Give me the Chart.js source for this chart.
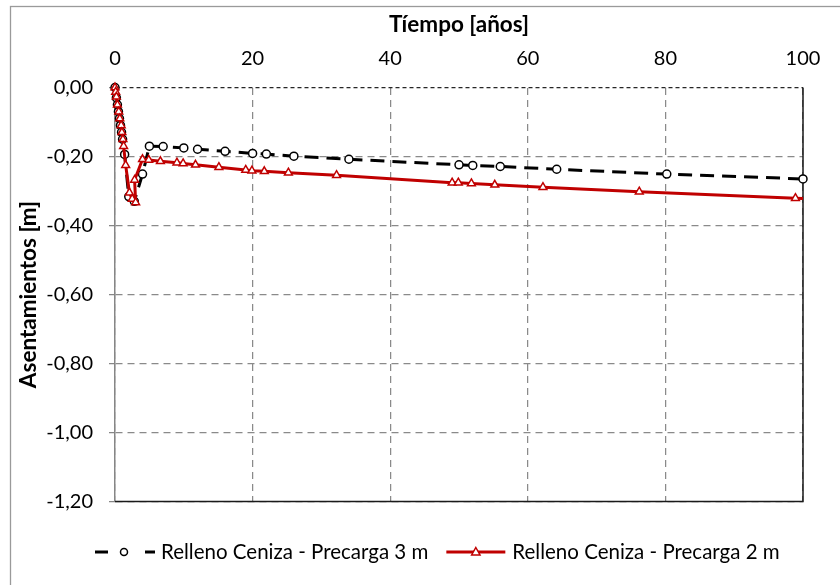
<!DOCTYPE html>
<html>
<head>
<meta charset="utf-8">
<script src="https://cdn.jsdelivr.net/npm/chart.js@4.4.0/dist/chart.umd.min.js"></script>
<style>
  html, body { margin: 0; padding: 0; background: #fff; }
  canvas { display: block; }
</style>
</head>
<body>
<canvas id="settlementChart" width="840" height="585"></canvas>
<script>
// axis ticks
const xTicks = [0, 20, 40, 60, 80, 100];
const yTicks = [0, -0.2, -0.4, -0.6, -0.8, -1.0, -1.2];

const seriesNames = ['Relleno Ceniza - Precarga 3 m', 'Relleno Ceniza - Precarga 2 m'];

// Precarga 3 m (tiempo en años, asentamiento en m)
const timeP3 = [0, 0.2, 0.35, 0.5, 0.65, 0.8, 0.95, 1.1, 1.4, 2.0, 2.8, 4.0, 5.0, 7.0, 10.0, 12.0,
    16.0, 20.0, 22.0, 26.0, 34.0, 50.0, 52.0, 56.0, 64.2, 80.2, 100];
const settleP3 = [0, -0.03, -0.05, -0.07, -0.09, -0.11, -0.13, -0.15, -0.194, -0.316, -0.33, -0.251,
    -0.170, -0.171, -0.175, -0.179, -0.185, -0.191, -0.193, -0.199, -0.208, -0.224, -0.226, -0.229,
    -0.237, -0.251, -0.265];

// Precarga 2 m
const timeP2 = [0, 0.1, 0.2, 0.35, 0.55, 0.7, 0.9, 1.0, 1.15, 1.25, 1.55, 2.1, 2.5, 3.0, 2.85, 4.0,
    4.9, 6.6, 9.0, 9.9, 11.7, 15.1, 19.0, 19.9, 21.7, 25.2, 32.2, 49.0, 49.9, 51.8, 55.2, 62.2, 76.2,
    98.9, 100];
const settleP2 = [0, -0.013, -0.027, -0.05, -0.07, -0.09, -0.11, -0.13, -0.15, -0.17, -0.225, -0.305,
    -0.323, -0.333, -0.268, -0.208, -0.210, -0.214, -0.218, -0.220, -0.224, -0.231, -0.239, -0.241,
    -0.243, -0.247, -0.254, -0.276, -0.276, -0.278, -0.282, -0.289, -0.302, -0.321, -0.322];

const FONT = 'Lato';
const RED = '#C00000';
const TICK_SIZE = 20;
const TITLE_SIZE = 22.5;
const LEGEND_SIZE = 20.5;

function toPoints(xs, ys) {
    return xs.map((x, i) => ({ x: x, y: ys[i] }));
}

function fmtComma(v) {
    if (Math.abs(v) < 1e-9) v = 0;
    return v.toFixed(2).replace('.', ',');
}

// marco exterior + bordes derecho/inferior del área de trazado
const framePlugin = {
    id: 'frame',
    beforeDraw(chart) {
        const ctx = chart.ctx;
        ctx.save();
        ctx.fillStyle = '#fff';
        ctx.fillRect(0, 0, chart.width, chart.height);
        ctx.strokeStyle = '#9a9a9a';
        ctx.lineWidth = 1.3;
        ctx.strokeRect(10.5, 6.5, 840, 600);
        ctx.restore();
    },
    beforeDatasetsDraw(chart) {
        const a = chart.chartArea;
        const ctx = chart.ctx;
        ctx.save();
        ctx.strokeStyle = '#1a1a1a';
        ctx.lineWidth = 1.5;
        ctx.beginPath();
        ctx.moveTo(a.right, a.top);
        ctx.lineTo(a.right, a.bottom);
        ctx.lineTo(a.left, a.bottom);
        ctx.stroke();
        ctx.restore();
    }
};

// leyenda estilo Excel (línea + marcador)
const legendPlugin = {
    id: 'excelLegend',
    afterDraw(chart) {
        const ctx = chart.ctx;
        const y = 552;
        ctx.save();
        ctx.font = LEGEND_SIZE + 'px ' + FONT;
        ctx.textBaseline = 'middle';
        ctx.fillStyle = '#000';

        // serie 1: discontinua negra con círculo
        let x = 95;
        ctx.strokeStyle = '#000';
        ctx.lineWidth = 3;
        ctx.beginPath();
        ctx.moveTo(x, y); ctx.lineTo(x + 13, y);
        ctx.moveTo(x + 50, y); ctx.lineTo(x + 60, y);
        ctx.stroke();
        ctx.beginPath();
        ctx.arc(x + 29, y, 3.5, 0, Math.PI * 2);
        ctx.fillStyle = '#fff';
        ctx.fill();
        ctx.lineWidth = 1.5;
        ctx.stroke();
        ctx.fillStyle = '#000';
        ctx.fillText(seriesNames[0], x + 66, y);
        const w1 = ctx.measureText(seriesNames[0]).width;

        // serie 2: roja continua con triángulo
        x = x + 66 + w1 + 18;
        ctx.strokeStyle = RED;
        ctx.lineWidth = 3;
        ctx.beginPath();
        ctx.moveTo(x, y); ctx.lineTo(x + 59, y);
        ctx.stroke();
        const cx = x + 29.5;
        ctx.beginPath();
        ctx.moveTo(cx, y - 4.5);
        ctx.lineTo(cx + 4.2, y + 3);
        ctx.lineTo(cx - 4.2, y + 3);
        ctx.closePath();
        ctx.fillStyle = '#fff';
        ctx.fill();
        ctx.lineWidth = 1.5;
        ctx.stroke();
        ctx.fillStyle = '#000';
        ctx.fillText(seriesNames[1], x + 66, y);
        ctx.restore();
    }
};

function drawChart() {
    const ctx = document.getElementById('settlementChart').getContext('2d');
    const lastP2 = timeP2.length - 1;

    new Chart(ctx, {
        type: 'scatter',
        data: {
            datasets: [{
                label: seriesNames[0],
                data: toPoints(timeP3, settleP3),
                showLine: true,
                borderColor: '#000',
                borderWidth: 3,
                borderDash: [14, 8],
                pointStyle: 'circle',
                pointRadius: 4,
                pointBorderWidth: 1.5,
                pointBackgroundColor: '#fff',
                pointBorderColor: '#000',
                clip: false,
                order: 2
            }, {
                label: seriesNames[1],
                data: toPoints(timeP2, settleP2),
                showLine: true,
                borderColor: RED,
                borderWidth: 3,
                pointStyle: 'triangle',
                pointRadius: (c) => c.dataIndex === lastP2 ? 0 : 4.5,
                pointBorderWidth: 1.5,
                pointBackgroundColor: '#fff',
                pointBorderColor: RED,
                clip: false,
                order: 1
            }]
        },
        options: {
            responsive: false,
            animation: false,
            layout: {
                padding: { left: 0, top: 0, right: 37, bottom: 83.5 }
            },
            plugins: {
                legend: { display: false },
                tooltip: { enabled: false }
            },
            scales: {
                x: {
                    type: 'linear',
                    position: 'top',
                    min: 0,
                    max: 100,
                    afterBuildTicks: (scale) => { scale.ticks = xTicks.map(v => ({ value: v })); },
                    afterFit: (scale) => { scale.height = 87.5; },
                    ticks: {
                        color: '#000',
                        font: { family: FONT, size: TICK_SIZE },
                        padding: 16.5,
                        maxRotation: 0
                    },
                    grid: {
                        color: '#8a8a8a',
                        lineWidth: 1.25,
                        drawTicks: false
                    },
                    border: { display: false, dash: [7, 5] },
                    title: {
                        display: true,
                        text: 'Tíempo [años]',
                        color: '#000',
                        font: { family: FONT, size: TITLE_SIZE, weight: 'bold' },
                        padding: { top: 11.5, bottom: 0 }
                    }
                },
                y: {
                    type: 'linear',
                    min: -1.2,
                    max: 0,
                    afterBuildTicks: (scale) => { scale.ticks = yTicks.map(v => ({ value: v })); },
                    afterFit: (scale) => { scale.width = 115; },
                    ticks: {
                        color: '#000',
                        font: { family: FONT, size: TICK_SIZE },
                        padding: 16,
                        callback: (v) => fmtComma(v)
                    },
                    grid: {
                        color: (c) => Math.abs(c.tick.value) < 1e-9 ? '#262626' : '#8a8a8a',
                        lineWidth: 1.25,
                        tickLength: 6,
                        tickColor: '#868686',
                        tickWidth: 1.25
                    },
                    border: {
                        display: true,
                        color: '#868686',
                        width: 1.5,
                        dash: (c) => Math.abs(c.tick.value) < 1e-9 ? [4, 3] : [7, 5]
                    },
                    title: {
                        display: true,
                        text: 'Asentamientos [m]',
                        color: '#000',
                        font: { family: FONT, size: TITLE_SIZE, weight: 'bold' },
                        padding: { top: 15.5, bottom: 0 }
                    }
                }
            }
        },
        plugins: [framePlugin, legendPlugin]
    });
}

Promise.all([
    document.fonts.load(TICK_SIZE + 'px ' + FONT),
    document.fonts.load('bold ' + TITLE_SIZE + 'px ' + FONT)
]).catch(() => {}).then(drawChart);
</script>
</body>
</html>
